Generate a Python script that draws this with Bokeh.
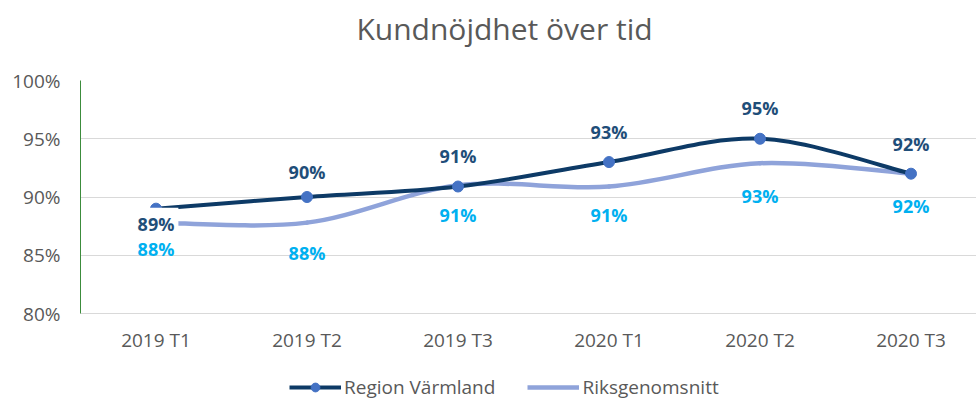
from bokeh.plotting import figure
from bokeh.layouts import column
from bokeh.core.properties import value
from bokeh.models import (ColumnDataSource, LabelSet, Label, Legend, LegendItem,
                          FixedTicker)
from bokeh.embed import file_html
from bokeh.resources import INLINE

# ---- data ----
title_text = "Kundnöjdhet över tid"
categories = ["2019 T1", "2019 T2", "2019 T3", "2020 T1", "2020 T2", "2020 T3"]
region_varmland = [89.0, 90.0, 90.9, 93.0, 95.0, 92.0]
riksgenomsnitt = [87.8, 87.8, 91.0, 90.9, 92.9, 92.0]
region_labels = ["89%", "90%", "91%", "93%", "95%", "92%"]
riks_labels = ["88%", "88%", "91%", "91%", "93%", "92%"]
y_ticks = [80, 85, 90, 95, 100]
y_tick_labels = ["80%", "85%", "90%", "95%", "100%"]
series_names = ["Region Värmland", "Riksgenomsnitt"]

# label offsets in pixels (style)
region_offsets = [-15, 25, 31, 30, 31, 30]
riks_offsets = [-26, -30, -30, -28, -33, -32]

FONT = "Open Sans"
DARK = "#0D3A66"
MARK = "#4472C4"
LIGHT = "#8FA3DA"
DARK_LBL = "#1F4E79"
LIGHT_LBL = "#00B0F0"
GRAY = "#595959"
NAN = float("nan")

xs = list(range(len(categories)))

# ---- title strip ----
tf = figure(width=976, height=62, output_backend="svg", toolbar_location=None,
            x_range=(80, 976), y_range=(0, 62), min_border=0)
tf.axis.visible = False
tf.grid.visible = False
tf.outline_line_color = None
tf.add_layout(Label(x=504, y=34, text=title_text, text_align="center",
                    text_baseline="middle", text_font=FONT, text_font_size="30px",
                    text_color=GRAY))

# ---- main chart ----
p = figure(width=976, height=298, output_backend="svg", toolbar_location=None,
           x_range=(-0.5, -0.5 + 896 / 151), y_range=(80, 100),
           min_border_left=80, min_border_right=0, min_border_top=18,
           min_border_bottom=47)
p.outline_line_color = None
p.background_fill_color = "white"
p.border_fill_color = "white"

p.xgrid.grid_line_color = None
p.ygrid.grid_line_color = "#D9D9D9"
p.ygrid.grid_line_width = 1

p.yaxis.ticker = FixedTicker(ticks=y_ticks)
p.yaxis.major_label_overrides = {t: l for t, l in zip(y_ticks, y_tick_labels)}
p.yaxis.axis_line_color = "#3C8C3C"
p.yaxis.axis_line_width = 1
p.yaxis.major_tick_line_color = None
p.yaxis.minor_tick_line_color = None
p.yaxis.major_tick_out = 0
p.yaxis.major_tick_in = 0
p.yaxis.major_label_text_font = FONT
p.yaxis.major_label_text_font_size = "19px"
p.yaxis.major_label_text_color = GRAY
p.yaxis.major_label_standoff = 20

p.xaxis.ticker = FixedTicker(ticks=xs)
p.xaxis.major_label_overrides = {i: c for i, c in enumerate(categories)}
p.xaxis.axis_line_color = "#D9D9D9"
p.xaxis.major_tick_line_color = None
p.xaxis.minor_tick_line_color = None
p.xaxis.major_tick_out = 0
p.xaxis.major_tick_in = 0
p.xaxis.major_label_text_font = FONT
p.xaxis.major_label_text_font_size = "19px"
p.xaxis.major_label_text_color = GRAY
p.xaxis.major_label_standoff = 13


def smooth_segments(x, y):
    n = len(x)
    seg = dict(x0=[], y0=[], x1=[], y1=[], cx0=[], cy0=[], cx1=[], cy1=[])
    for i in range(n - 1):
        pm = max(i - 1, 0)
        pp = min(i + 2, n - 1)
        seg["x0"].append(x[i]); seg["y0"].append(y[i])
        seg["x1"].append(x[i + 1]); seg["y1"].append(y[i + 1])
        seg["cx0"].append(x[i] + (x[i + 1] - x[pm]) / 6)
        seg["cy0"].append(y[i] + (y[i + 1] - y[pm]) / 6)
        seg["cx1"].append(x[i + 1] - (x[pp] - x[i]) / 6)
        seg["cy1"].append(y[i + 1] - (y[pp] - y[i]) / 6)
    return ColumnDataSource(seg)


light_src = smooth_segments(xs, riksgenomsnitt)
dark_src = smooth_segments(xs, region_varmland)

p.bezier(x0="x0", y0="y0", x1="x1", y1="y1", cx0="cx0", cy0="cy0",
         cx1="cx1", cy1="cy1", source=light_src, line_color=LIGHT,
         line_width=4.5, line_cap="round")
p.bezier(x0="x0", y0="y0", x1="x1", y1="y1", cx0="cx0", cy0="cy0",
         cx1="cx1", cy1="cy1", source=dark_src, line_color=DARK,
         line_width=4, line_cap="round")
p.scatter(xs, region_varmland, size=11, fill_color=MARK, line_color=MARK)

# data labels
dsrc = ColumnDataSource(dict(x=xs[1:], y=region_varmland[1:], t=region_labels[1:],
                             o=region_offsets[1:]))
p.add_layout(LabelSet(x="x", y="y", text="t", y_offset="o", source=dsrc,
                      text_align="center", text_baseline="middle",
                      text_font=value(FONT), text_font_size=value("18px"),
                      text_font_style="bold", text_color=DARK_LBL))
p.add_layout(Label(x=xs[0], y=region_varmland[0], text=region_labels[0],
                   y_offset=region_offsets[0], text_align="center",
                   text_baseline="middle", text_font=FONT, text_font_size="18px",
                   text_font_style="bold", text_color=DARK_LBL,
                   background_fill_color="white", padding=4))
lsrc = ColumnDataSource(dict(x=xs, y=riksgenomsnitt, t=riks_labels, o=riks_offsets))
p.add_layout(LabelSet(x="x", y="y", text="t", y_offset="o", source=lsrc,
                      text_align="center", text_baseline="middle",
                      text_font=value(FONT), text_font_size=value("18px"),
                      text_font_style="bold", text_color=LIGHT_LBL))

# ---- legend strip ----
lf = figure(width=976, height=40, output_backend="svg", toolbar_location=None,
            x_range=(0, 1), y_range=(0, 1), min_border=0)
lf.axis.visible = False
lf.grid.visible = False
lf.outline_line_color = None
lf.background_fill_color = "white"
lf.border_fill_color = "white"
lr_dark = lf.line([NAN, NAN], [NAN, NAN], line_color=DARK, line_width=4)
lr_mark = lf.scatter([NAN], [NAN], size=11, fill_color=MARK, line_color=MARK)
lr_light = lf.line([NAN, NAN], [NAN, NAN], line_color=LIGHT, line_width=4.5)
legend = Legend(items=[LegendItem(label=series_names[0], renderers=[lr_dark, lr_mark]),
                       LegendItem(label=series_names[1], renderers=[lr_light])],
                orientation="horizontal", location=(209, 0),
                label_text_font=FONT, label_text_font_size="19px",
                label_text_color=GRAY, glyph_width=52, glyph_height=22,
                label_standoff=3, spacing=32, border_line_color=None,
                background_fill_alpha=0, margin=0, padding=0)
lf.add_layout(legend, "center")

layout = column(tf, p, lf, spacing=0)
open("out.html", "w").write(file_html(layout, INLINE))
